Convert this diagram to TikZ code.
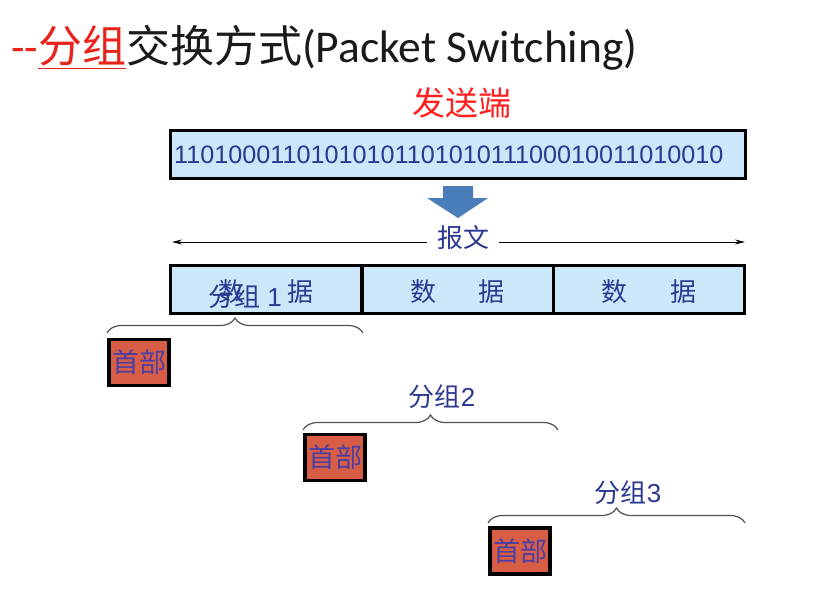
\documentclass[tikz,border=0pt]{standalone}
\usepackage{fontspec}
\setmainfont{Liberation Sans}
\newfontfamily\cjk{Noto Sans CJK SC}
\newfontfamily\calfont{Carlito}
\usetikzlibrary{decorations.pathreplacing,arrows.meta}
\definecolor{boxfill}{HTML}{CCE7FA}
\definecolor{txtblue}{HTML}{2B3990}
\definecolor{hdrfill}{HTML}{D75E45}
\definecolor{hdrtxt}{HTML}{4B3FA6}
\definecolor{titred}{HTML}{E8231C}
\definecolor{sendred}{HTML}{FF1F1F}
\definecolor{titdark}{HTML}{1A1A1A}
\definecolor{arrblue}{HTML}{4A7EBB}
\definecolor{brcgray}{HTML}{505050}
\newcommand\fsz[1]{\fontsize{#1}{#1}\selectfont}
\begin{document}
\begin{tikzpicture}[x=1pt,y=-1pt,
  bitbox/.style={draw=black, line width=3pt, fill=boxfill, rectangle, inner sep=0pt},
  hdr/.style={draw=black, line width=3.5pt, fill=hdrfill, minimum width=60pt, minimum height=46pt, inner sep=0pt, text=hdrtxt, font=\cjk\fsz{27}},
  brc/.style={draw=brcgray, line width=1.2pt, decorate, decoration={brace, amplitude=15pt}},
  grp/.style={text=txtblue, font=\fsz{26}, inner sep=0pt},
  cell/.style={bitbox, minimum width=191pt, minimum height=48pt},
  celltxt/.style={text=txtblue, font=\cjk\fsz{26}, inner sep=0pt},
]
\useasboundingbox[fill=white] (0,0) rectangle (833,594);

% title
\node[anchor=base west, inner sep=0pt, text=titdark] (title) at (11,63)
  {{\color{titred}\calfont\fsz{44}-{}-\cjk\underline{分组}}{\cjk\fsz{44}交换方式}{\calfont\fsz{45.5}(Packet Switching)}};

% sender
\node[text=sendred, font=\cjk\fsz{33}, inner sep=0pt] (sender) at (462,103) {发送端};

% bit box
\node[bitbox, minimum width=575pt, minimum height=48pt] (msg) at (457.5,154.5) {};
\node[anchor=west, text=txtblue, font=\fsz{25.2}, inner sep=0pt] (bits) at (174,155) {1101000110101010110101011100010011010010};

% block arrow
\fill[arrblue] (443,186) -- (473,186) -- (473,198) -- (488,198) -- (458,218) -- (427,198) -- (443,198) -- cycle;

% double arrow with label
\coordinate (la) at (172,242);
\coordinate (ra) at (745,242);
\draw[line width=0.9pt, {Stealth[length=10pt,width=5pt]}-{Stealth[length=10pt,width=5pt]}] (la) -- (ra);
\node[fill=white, text=txtblue, font=\cjk\fsz{26}, inner xsep=10pt, inner ysep=0pt] (msgl) at (463,238) {报文};

% data cells
\node[cell] (c1) at (266,289) {};
\node[cell] (c2) at (457.5,289) {};
\node[cell] (c3) at (649,289) {};
\node[celltxt] (t1) at (266,292) {数\hspace{43pt}据};
\node[celltxt] (t2) at (457.5,292) {数\hspace{43pt}据};
\node[celltxt] (t3) at (649,292) {数\hspace{43pt}据};

% packet labels
\node[grp] (g1) at (245,297) {{\cjk 分组} 1};
\node[grp] (g2) at (442,397) {{\cjk 分组}2};
\node[grp] (g3) at (628,493) {{\cjk 分组}3};

% braces
\coordinate (b1l) at (107,333); \coordinate (b1r) at (363,333);
\coordinate (b2l) at (303,430); \coordinate (b2r) at (558,430);
\coordinate (b3l) at (488,523); \coordinate (b3r) at (745,523);
\draw[brc] (b1l) -- (b1r);
\draw[brc] (b2l) -- (b2r);
\draw[brc] (b3l) -- (b3r);

% headers
\node[hdr] (h1) at (139,362.5) {首部};
\node[hdr] (h2) at (335,457.5) {首部};
\node[hdr] (h3) at (520,551) {首部};
\end{tikzpicture}
\end{document}
